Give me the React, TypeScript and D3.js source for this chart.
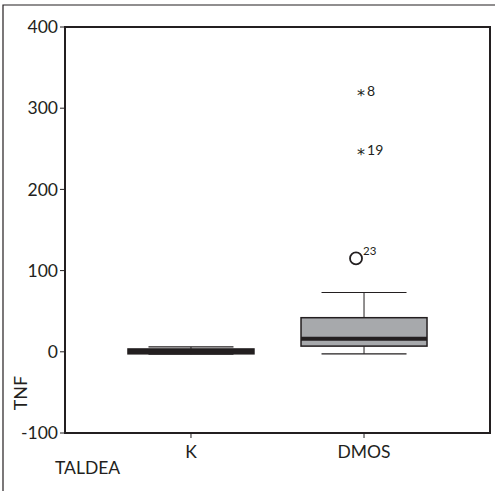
import React, { useEffect, useRef } from "react";
import * as d3 from "d3";

// groups on the x axis
const groups = ["K", "DMOS"];
// box statistics per group
const lowWhisker = [-3, -2.5];
const q1 = [-2.5, 7];
const median = [0, 16];
const q3 = [3.5, 42];
const highWhisker = [6, 73];
// outliers for DMOS: case id, value, kind
const outlierIds = ["8", "19", "23"];
const outlierValues = [321, 248, 115];
const outlierKinds = ["extreme", "extreme", "outlier"];
const yTicks = [-100, 0, 100, 200, 300, 400];

const App = () => {
  const ref = useRef<SVGSVGElement>(null);

  useEffect(() => {
    const svg = d3.select(ref.current);
    svg.selectAll("*").remove();
    const font = "Lato, 'DejaVu Sans', sans-serif";
    const ink = "#231f20";

    const left = 65, right = 490, top = 27, bottom = 433;
    const y = d3.scaleLinear().domain([-100, 400]).range([bottom, top]);
    const x = d3.scalePoint().domain(groups).range([left, right]).padding(0.728);

    // outer frame (only top and left visible)
    svg.append("path")
      .attr("d", "M3,495 L3,5 L495,5")
      .attr("fill", "none").attr("stroke", ink).attr("stroke-width", 1.2);

    // y axis ticks + labels
    const ya = svg.append("g");
    yTicks.forEach((t) => {
      ya.append("line").attr("x1", left - 5).attr("x2", left).attr("y1", y(t)).attr("y2", y(t))
        .attr("stroke", ink).attr("stroke-width", 1);
      ya.append("text").attr("x", left - 7).attr("y", y(t)).attr("dy", "0.35em")
        .attr("text-anchor", "end").style("font-family", font).style("font-size", "17.5px")
        .style("fill", ink).text(t);
    });

    // x axis ticks + labels
    groups.forEach((g) => {
      svg.append("line").attr("x1", x(g)).attr("x2", x(g)).attr("y1", bottom).attr("y2", bottom + 5)
        .attr("stroke", ink).attr("stroke-width", 1);
      svg.append("text").attr("x", x(g)).attr("y", 458).attr("text-anchor", "middle")
        .style("font-family", font).style("font-size", "17.5px").style("fill", ink).text(g);
    });

    svg.append("text").attr("x", 55).attr("y", 474)
      .style("font-family", font).style("font-size", "17.5px").style("fill", ink).text("TALDEA");

    svg.append("text").attr("transform", "translate(27,393) rotate(-90)").attr("text-anchor", "middle")
      .style("font-family", font).style("font-size", "18px").style("fill", ink).text("TNF");

    // boxes
    const boxW = 126, capW = 85;
    groups.forEach((g, i) => {
      const cx = x(g) as number;
      const b = svg.append("g");
      // whisker stems
      b.append("line").attr("x1", cx).attr("x2", cx).attr("y1", y(q3[i])).attr("y2", y(highWhisker[i]))
        .attr("stroke", ink).attr("stroke-width", 1);
      b.append("line").attr("x1", cx).attr("x2", cx).attr("y1", y(q1[i])).attr("y2", y(lowWhisker[i]))
        .attr("stroke", ink).attr("stroke-width", 1);
      // caps
      [highWhisker[i], lowWhisker[i]].forEach((v) => {
        b.append("line").attr("x1", cx - capW / 2).attr("x2", cx + capW / 2).attr("y1", y(v)).attr("y2", y(v))
          .attr("stroke", ink).attr("stroke-width", 1.2);
      });
      // box
      b.append("rect").attr("x", cx - boxW / 2).attr("width", boxW)
        .attr("y", y(q3[i])).attr("height", y(q1[i]) - y(q3[i]))
        .attr("fill", i === 0 ? ink : "#a7a9ac").attr("stroke", ink).attr("stroke-width", 1.5);
      // median
      b.append("line").attr("x1", cx - boxW / 2).attr("x2", cx + boxW / 2)
        .attr("y1", y(median[i])).attr("y2", y(median[i]))
        .attr("stroke", ink).attr("stroke-width", 4);
    });

    // outliers (DMOS)
    const ox = x("DMOS") as number;
    outlierValues.forEach((v, k) => {
      const py = y(v);
      if (outlierKinds[k] === "extreme") {
        svg.append("text").attr("x", ox - 3).attr("y", py).attr("dy", "0.6em").attr("text-anchor", "middle")
          .style("font-family", "'DejaVu Sans', sans-serif").style("font-size", "16px").style("fill", ink).text("*");
        svg.append("text").attr("x", ox + 3).attr("y", py).attr("dy", "0.35em")
          .style("font-family", font).style("font-size", "14px").style("fill", ink).text(outlierIds[k]);
      } else {
        svg.append("circle").attr("cx", ox - 8).attr("cy", py).attr("r", 6)
          .attr("fill", "none").attr("stroke", ink).attr("stroke-width", 1.8);
        svg.append("text").attr("x", ox - 1).attr("y", py - 3)
          .style("font-family", font).style("font-size", "11.5px").style("fill", ink).text(outlierIds[k]);
      }
    });

    // plot frame
    svg.append("rect").attr("x", left).attr("y", top).attr("width", right - left).attr("height", bottom - top)
      .attr("fill", "none").attr("stroke", ink).attr("stroke-width", 2);
  }, []);

  return (
    <svg ref={ref} width={495} height={491}
      style={{ position: "absolute", left: 0, top: 0, background: "white" }} />
  );
};

export default App;
